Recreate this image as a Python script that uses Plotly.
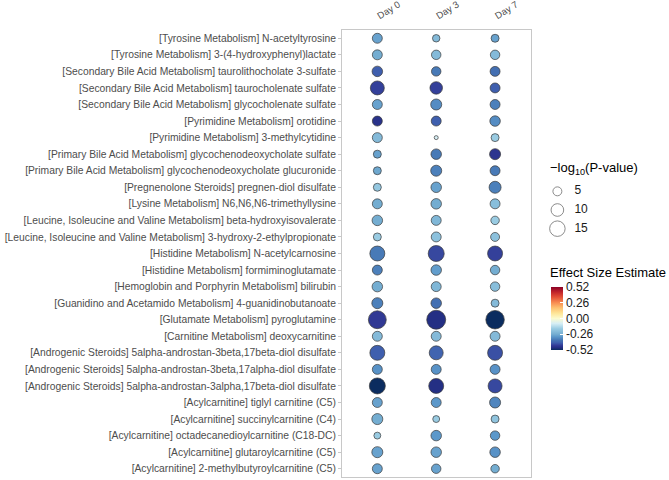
import plotly.graph_objects as go

days = ["Day 0", "Day 3", "Day 7"]
metabolites = [
    "[Tyrosine Metabolism] N-acetyltyrosine",
    "[Tyrosine Metabolism] 3-(4-hydroxyphenyl)lactate",
    "[Secondary Bile Acid Metabolism] taurolithocholate 3-sulfate",
    "[Secondary Bile Acid Metabolism] taurocholenate sulfate",
    "[Secondary Bile Acid Metabolism] glycocholenate sulfate",
    "[Pyrimidine Metabolism] orotidine",
    "[Pyrimidine Metabolism] 3-methylcytidine",
    "[Primary Bile Acid Metabolism] glycochenodeoxycholate sulfate",
    "[Primary Bile Acid Metabolism] glycochenodeoxycholate glucuronide",
    "[Pregnenolone Steroids] pregnen-diol disulfate",
    "[Lysine Metabolism] N6,N6,N6-trimethyllysine",
    "[Leucine, Isoleucine and Valine Metabolism] beta-hydroxyisovalerate",
    "[Leucine, Isoleucine and Valine Metabolism] 3-hydroxy-2-ethylpropionate",
    "[Histidine Metabolism] N-acetylcarnosine",
    "[Histidine Metabolism] formiminoglutamate",
    "[Hemoglobin and Porphyrin Metabolism] bilirubin",
    "[Guanidino and Acetamido Metabolism] 4-guanidinobutanoate",
    "[Glutamate Metabolism] pyroglutamine",
    "[Carnitine Metabolism] deoxycarnitine",
    "[Androgenic Steroids] 5alpha-androstan-3beta,17beta-diol disulfate",
    "[Androgenic Steroids] 5alpha-androstan-3beta,17alpha-diol disulfate",
    "[Androgenic Steroids] 5alpha-androstan-3alpha,17beta-diol disulfate",
    "[Acylcarnitine] tiglyl carnitine (C5)",
    "[Acylcarnitine] succinylcarnitine (C4)",
    "[Acylcarnitine] octadecanedioylcarnitine (C18-DC)",
    "[Acylcarnitine] glutaroylcarnitine (C5)",
    "[Acylcarnitine] 2-methylbutyroylcarnitine (C5)",
]

# effect size estimates per day (rows follow metabolites)
effect_day0 = [-0.28, -0.26, -0.40, -0.44, -0.28, -0.47, -0.22, -0.28, -0.27, -0.18,
               -0.26, -0.26, -0.17, -0.35, -0.34, -0.26, -0.34, -0.45, -0.22, -0.40,
               -0.31, -0.52, -0.28, -0.26, -0.17, -0.28, -0.28]
effect_day3 = [-0.22, -0.22, -0.35, -0.44, -0.32, -0.40, -0.08, -0.35, -0.34, -0.28,
               -0.26, -0.23, -0.20, -0.43, -0.29, -0.23, -0.37, -0.48, -0.22, -0.39,
               -0.31, -0.48, -0.30, -0.17, -0.30, -0.28, -0.28]
effect_day7 = [-0.28, -0.22, -0.37, -0.40, -0.34, -0.32, -0.17, -0.46, -0.35, -0.34,
               -0.21, -0.17, -0.20, -0.44, -0.26, -0.21, -0.22, -0.52, -0.22, -0.42,
               -0.31, -0.43, -0.33, -0.19, -0.30, -0.31, -0.26]

# -log10(P-value) per day
nlp_day0 = [6.2, 6.2, 6.9, 12.2, 6.2, 6.2, 6.2, 4.0, 4.0, 4.0,
            6.2, 6.9, 4.0, 14.0, 6.2, 6.9, 7.6, 20.0, 6.2, 14.0,
            6.2, 16.0, 6.2, 7.6, 3.0, 7.6, 6.2]
nlp_day3 = [3.5, 5.6, 5.6, 9.8, 7.6, 6.2, 1.0, 6.9, 7.6, 6.9,
            6.9, 6.2, 6.2, 16.0, 6.9, 6.2, 6.9, 22.5, 6.2, 12.2,
            6.2, 14.0, 6.2, 3.0, 6.9, 6.9, 5.6]
nlp_day7 = [4.0, 5.6, 6.2, 6.2, 6.2, 6.9, 4.0, 7.6, 6.2, 9.0,
            6.2, 4.5, 5.0, 14.0, 5.6, 5.6, 4.0, 21.4, 6.2, 14.0,
            6.2, 12.2, 7.6, 4.0, 5.6, 6.9, 4.5]

size_legend_values = [5, 10, 15]
size_legend_labels = ["5", "10", "15"]
cbar_ticks = [0.52, 0.26, 0.0, -0.26, -0.52]
cbar_ticktext = ["0.52", "0.26", "0.00", "-0.26", "-0.52"]

colorscale = [
    [0.0, "#0b2c5f"], [0.04, "#252f85"], [0.07, "#323a96"], [0.115, "#3f5fae"],
    [0.155, "#4575b4"], [0.21, "#5b97ca"], [0.25, "#74add1"], [0.34, "#9acce3"],
    [0.42, "#d6eef5"], [0.5, "#fbfbd0"], [0.58, "#fee79a"], [0.67, "#fdc070"],
    [0.75, "#f88d52"], [0.85, "#e04a33"], [0.92, "#c0242a"], [1.0, "#8b0026"],
]

xs, ys, cs, ss = [], [], [], []
for d, eff, nlp in zip(days, [effect_day0, effect_day3, effect_day7],
                       [nlp_day0, nlp_day3, nlp_day7]):
    for m, e, p in zip(metabolites, eff, nlp):
        xs.append(d); ys.append(m); cs.append(e); ss.append(p)

SIZEREF = 1 / 8.0   # diameter = 4 * sqrt(value) px
FONT = "Arial, Liberation Sans, sans-serif"
W, H = 669, 480

fig = go.Figure()
fig.add_trace(go.Scatter(
    x=xs, y=ys, mode="markers", showlegend=False,
    marker=dict(
        size=ss, sizemode="area", sizeref=SIZEREF, opacity=1,
        color=cs, cmin=-0.52, cmax=0.52, colorscale=colorscale,
        line=dict(color="#3a3a3a", width=0.7),
        colorbar=dict(
            x=551 / W, xanchor="left", y=1 - 318.5 / H, yanchor="middle",
            thickness=12, thicknessmode="pixels",
            len=63, lenmode="pixels", ypad=0, xpad=0,
            tickvals=cbar_ticks, ticktext=cbar_ticktext,
            ticks="inside", tickcolor="white", ticklen=3,
            outlinewidth=0,
            tickfont=dict(size=12, color="#1a1a1a", family=FONT),
        ),
    ),
))

# size legend
fig.add_trace(go.Scatter(
    x=[0] * len(size_legend_values), y=list(range(len(size_legend_values))),
    mode="markers", showlegend=False, xaxis="x2", yaxis="y2",
    marker=dict(size=size_legend_values, sizemode="area", sizeref=SIZEREF, opacity=1,
                color="white", line=dict(color="#6e6e6e", width=0.8)),
    hoverinfo="skip",
))
fig.add_trace(go.Scatter(
    x=[1] * len(size_legend_values), y=list(range(len(size_legend_values))),
    mode="text", text=size_legend_labels, textposition="middle right",
    textfont=dict(size=12, color="#1a1a1a", family=FONT),
    showlegend=False, xaxis="x2", yaxis="y2", hoverinfo="skip",
))

fig.update_layout(
    width=W, height=H, autosize=False,
    margin=dict(l=0, r=0, t=0, b=0, pad=0),
    paper_bgcolor="white", plot_bgcolor="white",
    font=dict(family=FONT),
    xaxis=dict(
        domain=[342 / W, 531 / W], type="category",
        categoryorder="array", categoryarray=days,
        range=[-0.6, 2.61], side="top", tickangle=-32,
        showgrid=False, zeroline=False,
        showline=True, mirror=True, linecolor="#c8c8c8", linewidth=1,
        ticks="", ticklabelstandoff=5,
        tickfont=dict(size=9.5, color="#4d4d4d", family=FONT),
        automargin=False, anchor="y",
    ),
    yaxis=dict(
        domain=[3 / H, 450 / H], type="category",
        categoryorder="array", categoryarray=metabolites,
        range=[26.5, -0.5],
        showgrid=False, zeroline=False,
        showline=True, mirror=True, linecolor="#c8c8c8", linewidth=1,
        ticks="outside", ticklen=3, tickcolor="#c8c8c8",
        tickfont=dict(size=10.3, color="#4d4d4d", family=FONT),
        automargin=False, anchor="x",
    ),
    xaxis2=dict(domain=[548 / W, 600 / W], range=[-0.55, 2.5], visible=False,
                anchor="y2", fixedrange=True),
    yaxis2=dict(domain=[1 - 238 / H, 1 - 182 / H], range=[2.5, -0.5], visible=False,
                anchor="x2", fixedrange=True),
    annotations=[
        dict(text="\u2212log<sub>10</sub>(P-value)", x=548 / W, y=1 - 168 / H,
             xref="paper", yref="paper", xanchor="left", yanchor="middle",
             showarrow=False, font=dict(size=13, color="#000000", family=FONT)),
        dict(text="Effect Size Estimate", x=548 / W, y=1 - 272 / H,
             xref="paper", yref="paper", xanchor="left", yanchor="middle",
             showarrow=False, font=dict(size=13, color="#000000", family=FONT)),
    ],
)

fig.write_html(
    "out.html",
    config={"responsive": False, "displayModeBar": False},
    post_script="document.body.style.margin='0';document.body.style.overflow='hidden';",
)
